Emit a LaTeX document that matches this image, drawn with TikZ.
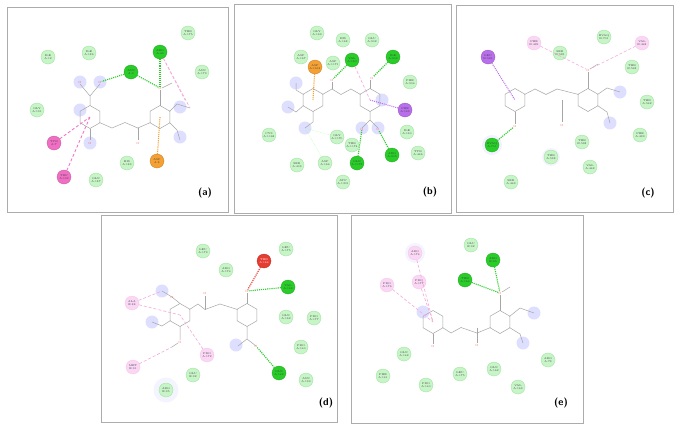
\documentclass[tikz,border=0pt]{standalone}
\usetikzlibrary{shapes.geometric}
\definecolor{lg}{RGB}{200,245,200}
\definecolor{lgd}{RGB}{150,225,150}
\definecolor{dg}{RGB}{40,205,40}
\definecolor{pk}{RGB}{240,110,195}
\definecolor{lpk}{RGB}{250,215,245}
\definecolor{og}{RGB}{245,160,50}
\definecolor{pu}{RGB}{185,110,235}
\definecolor{rd}{RGB}{230,60,50}
\tikzset{
 res/.style={circle,minimum size=14pt,inner sep=0,font=\fontsize{2.7}{2.9}\selectfont,align=center,text=black!75,fill=lg,draw=lgd,line width=0.3pt},
 vdw/.style={res},
 hbd/.style={res,fill=dg,draw=dg!80!black},
 pis/.style={res,fill=pk,draw=pk!80!black},
 alk/.style={res,fill=lpk,draw=pk!40},
 ani/.style={res,fill=og,draw=og!80!black},
 pst/.style={res,fill=pu,draw=pu!80!black},
 unf/.style={res,fill=rd,draw=rd!80!black},
 ring/.style={draw=gray!70,regular polygon,regular polygon sides=6,minimum size=23pt,inner sep=0,shape border rotate=30,line width=0.5pt},
 bond/.style={draw=gray!70,line width=0.5pt},
 hb/.style={dg,densely dotted,line width=1.1pt},
 pkl/.style={pk,densely dashed,line width=0.8pt},
 lpkl/.style={pk!60,densely dashed,line width=0.6pt},
 orl/.style={og,densely dotted,line width=1.1pt},
 pul/.style={pu,densely dotted,line width=1pt},
 rdl/.style={rd,densely dotted,line width=1.1pt},
 halo/.style={circle,fill=blue!25,opacity=0.5,minimum size=13pt,inner sep=0},
 atom/.style={font=\fontsize{3}{3}\selectfont,text=red!70,inner sep=0},
 frame/.style={draw=gray!65,line width=0.9pt,fill=white},
 lab/.style={font=\sffamily\bfseries\fontsize{10}{10}\selectfont}
}
\begin{document}
\begin{tikzpicture}[x=1pt,y=-1pt]
\useasboundingbox (0,0) rectangle (683,432);
% frames
\draw[frame] (7,7) rectangle (228,212);
\draw[frame] (234,4) rectangle (451,213);
\draw[frame] (456,5) rectangle (673,212);
\draw[frame] (101,215) rectangle (337,422);
\draw[frame] (351,215) rectangle (583,423);
% ---------- (a)
\node[halo] at (80,82) {};\node[halo] at (100,82) {};\node[halo] at (180,107) {};\node[halo] at (180,137) {};\node[halo] at (90,143) {};\node[halo] at (80,110){};
\node[ring] (aL) at (90,117) {};\node[ring] (aR) at (160,117) {};
\draw[bond] (99.5,122.5)--(112,128)--(125,122.5)--(137.8,128)--(150.5,122.5);
\draw[bond] (137.8,128)--(137.8,140);\node[atom] at (137.8,143) {O};
\draw[bond] (90,105.5)--(90,96)--(80,84) (90,96)--(100,84);
\node[atom] (aO1) at (80,82) {O};\node[atom] (aO2) at (100,82) {O};
\draw[bond] (90,128.5)--(90,140);\node[atom] at (90,143) {O};
\draw[bond] (160,105.5)--(160,90);\node[atom] (aO3) at (160,88) {O};\draw[bond] (162,88)--(172,83);
\draw[bond] (169.5,111.5)--(177,104)--(190,108);\coordinate (aM) at (190,108);
\draw[bond] (169.5,122.5)--(177,130)--(180,140);
\node[vdw] at (48,57) {ILE\\A:12};\node[vdw] at (89,53) {ILE\\A:186};\node[vdw] at (188,33) {THR\\A:175};
\node[hbd] (a40) at (160,52) {ARG\\A:40};\node[hbd] (a9) at (131,72) {ASN\\A:9};
\node[vdw] at (202,72) {ASN\\A:179};\node[vdw] at (37,110) {GLY\\A:191};
\node[pis] (a7) at (54,143) {TYR\\A:7};\node[pis] (a192) at (64,177) {TRP\\A:192};
\node[vdw] at (96,180) {GLN\\A:187};\node[vdw] at (127,163) {HIS\\A:183};\node[ani] (a8) at (157,161) {ASP\\A:8};
\draw[hb] (a9)--(aO2);\draw[hb] (a9)--(aO3);\draw[hb] (a40)--(aO3);\draw[lpkl] (a40)--(aM);\draw[lpkl] (a40)--(185,100);
\draw[pkl] (a7)--(aL.center);\draw[pkl] (a192)--(aL.center);\draw[orl] (a8)--(aR.center);
\node[lab] at (205,193) {(a)};
% ---------- (b)
\node[halo] at (296,83) {};\node[halo] at (288,107){};\node[halo] at (305,128){};\node[halo] at (362,128){};\node[halo] at (378,128){};\node[halo] at (382,100){};
\node[ring] (bL) at (313,100) {};\node[ring] (bR) at (370,100) {};
\draw[bond] (322.5,94.5)--(332,89)--(341,94.5)--(351,89)--(360.5,94.5);
\draw[bond] (332,89)--(332,82);\node[atom] (bO) at (332,80) {O};
\draw[bond] (303.5,94.5)--(296,90)--(296,83) (303.5,105.5)--(296,112)--(288,107) (313,111.5)--(313,122)--(305,128);
\coordinate (bOm) at (305,128);
\draw[bond] (370,88.5)--(370,80);\node[atom] (bO2) at (372,78) {O};
\draw[bond] (370,111.5)--(370,120)--(362,128) (370,120)--(378,128);
\node[atom] (bN1) at (362,129) {O};\node[atom] (bN2) at (378,129) {O};
\node[vdw] at (317,33) {GLY\\A:169};\node[vdw] at (343,40) {HIS\\A:168};\node[vdw] at (372,40) {GLU\\A:902};
\node[vdw] at (301,57) {ASP\\A:167};\node[ani] (b1618) at (315,67) {ASP\\A:1618};\node[vdw] at (333,63) {ASP\\A:1171};
\node[hbd] (b160) at (352,60) {VAL\\A:160};\node[hbd] (b903) at (393,57) {ILE\\A:903};\node[vdw] at (410,82) {PHE\\A:904};
\node[pst] (b163) at (405,110) {PHE\\A:163};\node[vdw] at (269,135) {CYS\\A:1168};\node[vdw] (b1170) at (337,137) {GLY\\A:1170};
\node[vdw] at (352,145) {THR\\A:1174};\node[vdw] at (407,132) {ILE\\A:160};\node[vdw] at (418,153) {TYR\\A:446};
\node[hbd] (b1175) at (357,163) {GLN\\A:1175};\node[hbd] (b905) at (392,155) {ARG\\A:905};\node[vdw] at (297,165) {SER\\A:403};
\node[vdw] (b164) at (325,163) {ASP\\A:164};\node[vdw] at (343,182) {ATP\\A:1301};
\draw[orl] (b1618)--(bL.center);\draw[hb] (b160)--(bO);\draw[hb] (b903)--(bO2);\draw[pul] (b163)--(bR.center);\draw[lpkl] (b160)--(bR.center);
\draw[hb] (b1175)--(bN1);\draw[hb] (b905)--(bN2);\draw[green!40,densely dotted] (b1170)--(bOm);\draw[green!40,densely dotted] (b164)--(bOm);
\node[lab] at (430,192) {(b)};
% ---------- (c)
\node[halo] at (620,92){};\node[halo] at (610,123){};\node[halo,fill=blue!10,minimum size=20pt] at (492,145){};\node[halo,fill=blue!8,minimum size=18pt] at (551,157){};
\node[ring] (cL) at (515,100) {};\node[ring] (cR) at (588,100) {};
\draw[bond] (524.5,94.5)--(535,89)--(546,94.5)--(557,89)--(578.5,94.5);
\draw[bond] (562,100)--(562,122);\node[atom] at (562,125) {O};
\draw[bond] (515,111.5)--(515,124);\node[atom] (cO1) at (515,126) {O};
\draw[bond] (588,88.5)--(588,72);\node[atom] (cO2) at (588,70) {O};\draw[bond] (590,69)--(598,64);
\draw[bond] (597.5,94.5)--(607,88)--(620,92) (597.5,105.5)--(607,112)--(610,123);
\node[pis,fill=lpk,draw=pk!40] (c439) at (534,43) {PHE\\B:439};\node[vdw] at (604,37) {BVAQ\\B:701};\node[alk] (c442) at (642,43) {VAL\\B:442};
\node[pst] (c549) at (488,57) {LEU\\B:549};\node[vdw] at (560,53) {SER\\B:535};\node[vdw] at (632,67) {THR\\B:542};
\node[vdw] at (647,102) {THR\\A:542};\node[vdw] at (640,135) {PHE\\A:439};\node[hbd] (c701) at (492,145) {BVAQ\\A:701};
\node[vdw] at (582,142) {THR\\B:538};\node[vdw] at (551,157) {THR\\A:538};\node[vdw] at (590,167) {VAL\\A:442};\node[vdw] at (511,182) {SER\\A:443};
\draw[pul] (c549)--(cL.center);\draw[hb] (c701)--(cO1);\draw[lpkl] (c439)--(cO2);\draw[lpkl] (c442)--(cO2);
\node[lab] at (648,193) {(c)};
% ---------- (d)
\node[halo] at (162,291){};\node[halo] at (152,322){};\node[halo] at (236,345){};
\node[ring] (dL) at (180,315) {};\node[ring] (dR) at (247,315) {};
\draw[bond] (189.5,309.5)--(198,304)--(205,309.5)--(220,304)--(237.5,309.5);
\draw[bond] (205,309.5)--(205,296);\node[atom] at (205,293) {O};
\draw[bond] (180,303.5)--(172,297)--(162,291) (170.5,320.5)--(162,326)--(152,322) (180,326.5)--(180,340);
\node[atom] (dO1) at (172,297) {O};\node[atom] (dO3) at (180,342) {O};\draw[bond] (178,343)--(172,347);\coordinate (dMe) at (172,347);
\draw[bond] (247,303.5)--(247,293);\node[atom] (dO2) at (247,291) {O};
\draw[bond] (247,326.5)--(247,339)--(238,346) (247,339)--(256,346);\node[atom] (dN) at (256,346) {O};
\node[vdw] at (203,251) {LEU\\A:173};\node[vdw] at (286,249) {LEU\\A:175};\node[unf,text=white] (d164) at (264,261) {THR\\A:164};
\node[vdw] at (226,270) {ARG\\A:174};\node[hbd] (d163) at (288,287) {VAL\\A:163};\node[alk] (d88) at (132,303) {ALA\\E:88};
\node[vdw] at (286,317) {GLN\\A:162};\node[vdw] at (314,318) {PRO\\A:177};\node[vdw] at (301,347) {PRO\\A:140};
\node[alk] (d172) at (207,355) {PRO\\A:172};\node[alk] (d91) at (133,367) {MET\\E:91};\node[vdw] at (193,375) {GLU\\E:92};
\node[hbd] (d142) at (279,373) {GLN\\A:142};\node[vdw] at (306,380) {ASN\\A:139};
\node[halo,fill=blue!8,minimum size=25pt] at (166,390){};\node[vdw] at (166,390) {ARG\\E:95};
\draw[rdl] (d164)--(dO2);\draw[hb] (d163)--(dO2);\draw[hb] (d142)--(dN);
\draw[lpkl] (d88)--(162,291);\draw[lpkl] (d88)--(dL.center);\draw[lpkl] (d172)--(dL.center);\draw[lpkl] (d91)--(dMe);
\node[lab] at (326,403) {(d)};
% ---------- (e)
\node[halo] at (534,313){};\node[halo] at (523,343){};\node[halo] at (423,312){};\node[halo,fill=blue!8,minimum size=20pt] at (415,253){};
\node[ring] (eL) at (433,322) {};\node[ring] (eR) at (500,322) {};
\draw[bond] (442.5,327.5)--(451,333)--(461,327.5)--(477,333)--(490.5,327.5);
\draw[bond] (477,327.5)--(477,343);\node[atom] at (477,345) {O};
\draw[bond] (433,333.5)--(433,344);\node[atom] at (433,346) {O};
\draw[bond] (500,310.5)--(500,295);\node[atom] (eO) at (500,293) {O};\draw[bond] (502,292)--(510,287);
\draw[bond] (509.5,316.5)--(520,308)--(534,313) (509.5,327.5)--(520,334)--(523,343);
\node[vdw] at (471,245) {GLU\\E:92};\node[alk] (e174) at (415,253) {ARG\\A:174};\node[hbd] (e95) at (493,260) {ARG\\E:95};
\node[alk] (e176) at (387,285) {PRO\\A:176};\node[alk] (e177) at (419,282) {PRO\\A:177};\node[hbd] (e164) at (465,280) {THR\\A:164};
\node[vdw] at (404,354) {GLN\\A:142};\node[vdw] at (548,360) {ARG\\A:73};\node[vdw] at (383,376) {PHE\\A:141};
\node[vdw] at (460,374) {LEU\\A:175};\node[vdw] at (494,369) {GLN\\A:162};\node[vdw] at (426,385) {PRO\\A:140};\node[vdw] at (518,387) {VAL\\A:163};
\draw[hb] (e95)--(eO);\draw[hb] (e164)--(eO);\draw[lpkl] (e176)--(eL.center);\draw[lpkl] (e177)--(eL.center);\draw[lpkl] (e174)--(eL.center);
\node[lab] at (561,403) {(e)};
\end{tikzpicture}
\end{document}
